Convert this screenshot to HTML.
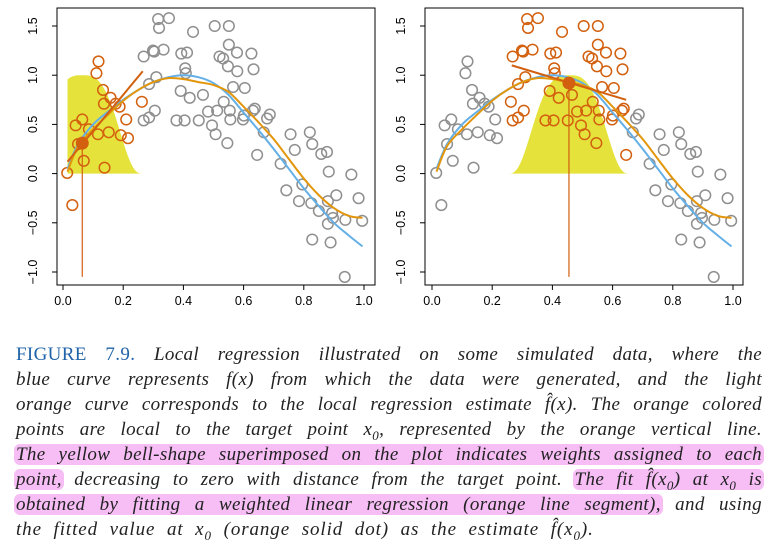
<!DOCTYPE html>
<html><head><meta charset="utf-8">
<style>
body{margin:0;background:#fff;width:778px;height:557px;overflow:hidden;position:relative}
svg{position:absolute;left:0;top:0}
#cap{position:absolute;left:16px;top:342px;width:746px;font-family:"Liberation Serif",serif;font-style:italic;font-size:19px;letter-spacing:0.35px;color:#222}
.ln{height:25px;line-height:25px;text-align:justify;text-align-last:justify;white-space:nowrap}
.last{text-align-last:left;word-spacing:6px;letter-spacing:0.9px}
.hl{background:#f7bdf5;border-radius:6px;padding:0 2px;margin:0 -2px}
.fig{color:#1f63a8;font-style:normal}
sub{font-size:13px;line-height:0}
</style></head><body>
<svg id="chart" width="778" height="330"></svg>
<div id="cap">
<div class="ln"><span class="fig">FIGURE 7.9.</span> Local regression illustrated on some simulated data, where the</div>
<div class="ln">blue curve represents f(x) from which the data were generated, and the light</div>
<div class="ln">orange curve corresponds to the local regression estimate f̂(x). The orange colored</div>
<div class="ln">points are local to the target point x<sub>0</sub>, represented by the orange vertical line.</div>
<div class="ln"><span class="hl">The yellow bell-shape superimposed on the plot indicates weights assigned to each</span></div>
<div class="ln"><span class="hl">point,</span> decreasing to zero with distance from the target point. <span class="hl">The fit f̂(x<sub>0</sub>) at x<sub>0</sub> is</span></div>
<div class="ln"><span class="hl">obtained by fitting a weighted linear regression (orange line segment),</span> and using</div>
<div class="ln last">the fitted value at x<sub>0</sub> (orange solid dot) as the estimate f̂(x<sub>0</sub>).</div>
</div>
<script>
const ptX=[.014,.031,.042,.050,.064,.069,.086,.111,.118,.116,.133,.136,.138,.152,.158,.175,.188,.192,.210,.216,.262,
.268,.268,.286,.286,.299,.303,.305,.310,.316,.319,.334,.352,.377,.391,.393,.404,.406,.408,.412,.421,.432,.451,.465,.482,.495,.504,.507,.512,.520,.532,.534,.546,.548,.551,.551,.554,.556,.565,.578,.579,.598,.601,.604,.626,.631,.633,.637,.645,.667,.678,.687,.723,.742,.756,.770,.784,.795,.820,.825,.828,.828,.850,.858,.877,.880,.883,.880,.889,.894,.897,.908,.938,.936,.958,.982,.994];
const ptY=[.007,-.32,.49,.30,.55,.13,.45,1.02,1.14,.40,.85,.71,.06,.42,.77,.71,.68,.39,.55,.36,.73,
1.19,.54,.57,.91,1.25,1.24,.64,.98,1.57,1.48,1.26,1.58,.54,.84,1.22,.54,1.07,1.02,1.23,.77,1.44,.54,.80,.63,.49,1.50,.40,.64,1.19,1.17,.73,.31,1.09,1.50,1.31,.64,.55,.88,1.23,1.04,.55,.59,.87,1.22,.64,1.06,.66,.19,.42,.56,.60,.10,-.17,.40,.24,-.28,-.11,.42,-.30,.30,-.67,-.38,.20,.22,-.28,.02,-.51,-.70,-.40,-.45,-.22,-.47,-1.05,-.01,-.25,-.48];
const curveX=[.015,.05,.1,.15,.2,.25,.3,.35,.4,.45,.5,.55,.6,.65,.7,.75,.8,.85,.9,.95,.995];
const trueY=[.05,.3,.5,.63,.75,.85,.93,.98,1.0,.98,.92,.8,.62,.44,.25,.05,-.15,-.33,-.5,-.63,-.74];
const fitY=[.02,.28,.45,.6,.74,.85,.93,.97,.96,.93,.9,.83,.68,.52,.35,.15,-.05,-.22,-.35,-.43,-.45];
const xTicks=[0,0.2,0.4,0.6,0.8,1.0], xTickLabels=["0.0","0.2","0.4","0.6","0.8","1.0"];
const yTicks=[-1,-0.5,0,0.5,1,1.5], yTickLabels=["−1.0","−0.5","0.0","0.5","1.0","1.5"];
const panelX0=[0.064,0.455];
const panelFit=[[0.015,0.12,0.265,1.04],[0.265,1.10,0.645,0.75]];
const panelDotY=[0.31,0.92];
const panelWin=[[0,0.265],[0.255,0.655]];
const kernelH=0.2;

const NS="http://www.w3.org/2000/svg", svg=document.getElementById('chart');
function el(t,a,p){const e=document.createElementNS(NS,t);for(const k in a)e.setAttribute(k,a[k]);(p||svg).appendChild(e);return e;}
function smooth(pts){let d=`M${pts[0][0]},${pts[0][1]}`;for(let i=0;i<pts.length-1;i++){const p0=pts[Math.max(i-1,0)],p1=pts[i],p2=pts[i+1],p3=pts[Math.min(i+2,pts.length-1)];
d+=` C${p1[0]+(p2[0]-p0[0])/6},${p1[1]+(p2[1]-p0[1])/6} ${p2[0]-(p3[0]-p1[0])/6},${p2[1]-(p3[1]-p1[1])/6} ${p2[0]},${p2[1]}`;}return d;}

const boxes=[{L:57,R:375,x0px:63},{L:425,R:743,x0px:432}];
boxes.forEach((b,pi)=>{
  const sx=v=>b.x0px+301*v, sy=v=>173.6-98.4*v;
  const g=el('g',{});
  
  
  const x0=panelX0[pi];let d='';const lo=Math.max(0.015,x0-kernelH),hi=x0+kernelH;
  for(let i=0;i<=80;i++){const x=lo+(hi-lo)*i/80,u=Math.abs(x-x0)/kernelH,w=Math.pow(1-Math.pow(Math.min(u,1),3),3);d+=(i?'L':'M')+sx(x)+','+sy(w);}
  d+=`L${sx(hi)},${sy(0)}L${sx(lo)},${sy(0)}Z`;
  const k=el('path',{d:d,fill:'#e5e33b'},g);
  
  
  ptX.forEach((x,i)=>{const loc=x>=panelWin[pi][0]&&x<=panelWin[pi][1];
    const c=el('circle',{cx:sx(x),cy:sy(ptY[i]),r:5.3,fill:'none',stroke:loc?'#d2600f':'#8f8f8f','stroke-width':1.5},g);
    
    });
  const bl=el('path',{d:smooth(curveX.map((x,i)=>[sx(x),sy(trueY[i])])),fill:'none',stroke:'#64b0e6','stroke-width':2},g);
  
  
  const fc=el('path',{d:smooth(curveX.map((x,i)=>[sx(x),sy(fitY[i])])),fill:'none',stroke:'#e3960b','stroke-width':2},g);
  
  
  const f=panelFit[pi];
  const fl=el('line',{x1:sx(f[0]),y1:sy(f[1]),x2:sx(f[2]),y2:sy(f[3]),stroke:'#d2600f','stroke-width':2},g);
  
  
  const vl=el('line',{x1:sx(x0),y1:sy(-1.05),x2:sx(x0),y2:sy(panelDotY[pi]),stroke:'#d2600f','stroke-width':1.2},g);
  
  
  const dt=el('circle',{cx:sx(x0),cy:sy(panelDotY[pi]),r:6.5,fill:'#d2600f'},g);
  
  
  const bx=el('rect',{x:b.L,y:8,width:b.R-b.L,height:277,fill:'none',stroke:'#000','stroke-width':1},g);
  
  
  xTicks.forEach((t,i)=>{el('line',{x1:sx(t),y1:285,x2:sx(t),y2:290,stroke:'#000'},g);
    const tx=el('text',{x:sx(t),y:305,'text-anchor':'middle','font-family':'Liberation Sans, sans-serif','font-size':12.5},g);tx.textContent=xTickLabels[i];
    
    });
  yTicks.forEach((t,i)=>{el('line',{x1:b.L,y1:sy(t),x2:b.L-5,y2:sy(t),stroke:'#000'},g);
    const X=b.L-20,Y=sy(t);
    const tx=el('text',{x:X,y:Y,transform:`rotate(-90 ${X} ${Y})`,'text-anchor':'middle','font-family':'Liberation Sans, sans-serif','font-size':12.5},g);tx.textContent=yTickLabels[i];
    
    });
});
</script>
</body></html>
